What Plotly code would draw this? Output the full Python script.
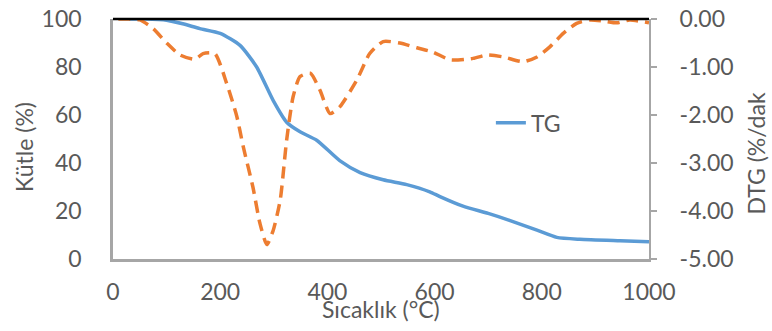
import plotly.graph_objects as go

# TG (mass %) vs temperature
tg_temp = [30, 60, 100, 130, 162, 200, 237, 268, 299, 324, 349, 380, 423, 461, 504, 548, 591, 610, 653, 700, 741, 791, 828, 871, 946, 1000]
tg_mass = [100, 100, 99.5, 98, 96, 94, 89, 80, 66, 57, 53, 49.5, 41, 36, 33, 31, 28, 26, 22, 19, 16, 12, 9, 8.2, 7.6, 7.2]

# DTG (%/dak) vs temperature
dtg_temp = [10, 26, 50, 75, 100, 125, 153, 168, 190, 212, 231, 243, 261, 274, 287, 299, 312, 324, 336, 349, 368, 386, 405, 423, 455, 479, 504, 535, 567, 597, 629, 672, 697, 728, 765, 791, 815, 840, 865, 890, 914, 940, 964, 1000]
dtg_val = [0, 0, -0.02, -0.2, -0.5, -0.75, -0.84, -0.72, -0.72, -1.34, -2.03, -2.66, -3.5, -4.25, -4.7, -4.4, -3.77, -2.52, -1.62, -1.2, -1.13, -1.48, -1.97, -1.83, -1.27, -0.72, -0.47, -0.5, -0.6, -0.69, -0.85, -0.82, -0.75, -0.79, -0.89, -0.79, -0.58, -0.3, -0.09, -0.02, -0.04, -0.08, -0.02, -0.08]

x_ticks = [0, 200, 400, 600, 800, 1000]
left_ticks = [0, 20, 40, 60, 80, 100]
right_ticks = [-5, -4, -3, -2, -1, 0]
right_labels = ["-5.00", "-4.00", "-3.00", "-2.00", "-1.00", "0.00"]

FONT = "Lato"
GRAY = "#595959"
AX = "#A6A6A6"

fig = go.Figure()
fig.add_trace(go.Scatter(x=dtg_temp, y=dtg_val, mode="lines", name="DTG", yaxis="y2",
                         line=dict(color="#ED7D31", width=3.5, dash="12px,7px", shape="spline", smoothing=0.6),
                         showlegend=False))
fig.add_trace(go.Scatter(x=tg_temp, y=tg_mass, mode="lines", name="TG", yaxis="y",
                         line=dict(color="#5B9BD5", width=3.5, shape="spline", smoothing=0.6)))

fig.update_layout(
    width=772, height=331,
    margin=dict(l=113, r=123, t=19, b=72, autoexpand=False),
    paper_bgcolor="white", plot_bgcolor="white",
    font=dict(family=FONT, size=23, color=GRAY),
    xaxis=dict(range=[0, 1000], tickvals=x_ticks, showgrid=False, zeroline=False, automargin=False,
               showline=True, linecolor=AX, linewidth=3, ticks="", ticklabelstandoff=10),
    yaxis=dict(range=[0, 100], tickvals=left_ticks, showgrid=False, zeroline=False, automargin=False,
               showline=True, linecolor=AX, linewidth=2.5, ticks="", ticklabelstandoff=24),
    yaxis2=dict(range=[-5, 0], tickvals=right_ticks, ticktext=right_labels, overlaying="y", side="right",
                showgrid=False, zeroline=False, showline=True, linecolor=AX, linewidth=2, automargin=False,
                ticks="outside", ticklen=6, tickcolor=AX, tickwidth=2, ticklabelstandoff=18),
    legend=dict(x=0.705, y=0.567, xanchor="left", yanchor="middle", bgcolor="rgba(0,0,0,0)",
                font=dict(size=23, color=GRAY)),
    shapes=[dict(type="line", xref="paper", yref="paper", x0=0, x1=1, y0=1, y1=1,
                 line=dict(color="black", width=2.5))],
    annotations=[
        dict(text="Sıcaklık (°C)", xref="paper", yref="paper", x=0.5, y=-0.208,
             showarrow=False, font=dict(size=23, color=GRAY), xanchor="center", yanchor="middle"),
        dict(text="Kütle (%)", xref="paper", yref="paper", x=-0.166, y=0.467, textangle=-90,
             showarrow=False, font=dict(size=23, color=GRAY), xanchor="center", yanchor="middle"),
        dict(text="DTG (%/dak", xref="paper", yref="paper", x=1.2, y=0.44, textangle=-90,
             showarrow=False, font=dict(size=23, color=GRAY), xanchor="center", yanchor="middle"),
    ],
)

fig.write_html("out.html", config={"displayModeBar": False},
               post_script="document.body.style.margin='0';document.body.style.overflow='hidden';")
